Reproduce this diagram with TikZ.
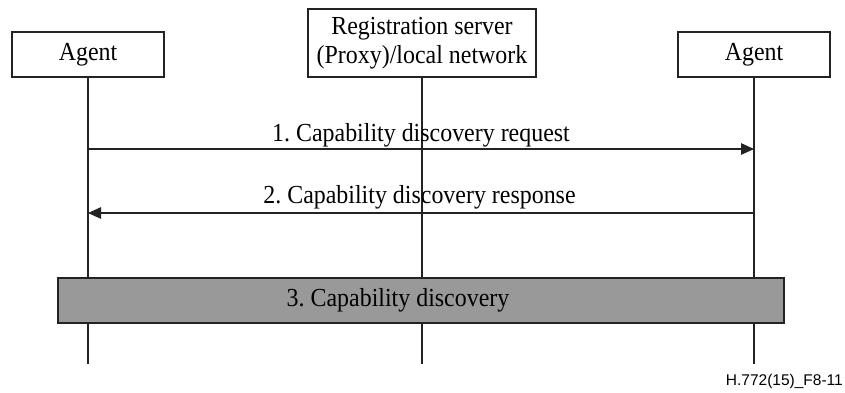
\documentclass[tikz,border=0pt]{standalone}
\usepackage{fontspec}
\setmainfont{Liberation Serif}[FakeStretch=0.92]
\newfontfamily\figsans{Liberation Sans}
\usetikzlibrary{arrows.meta}
\definecolor{boxgray}{RGB}{153,153,153}
\definecolor{ink}{RGB}{35,35,35}
\frenchspacing
\begin{document}
\begin{tikzpicture}[x=1pt,y=-1pt,
  txt/.style={font=\fontsize{26}{29}\selectfont, text=black},
  actor/.style={txt, draw=ink, line width=1.3pt, fill=white, inner sep=0pt, align=center},
  life/.style={draw=ink, line width=1.2pt},
  msg/.style={draw=ink, line width=1.2pt, -{Triangle[length=13pt,width=11.5pt]}},
  phase/.style={draw=ink, line width=1.3pt, fill=boxgray, inner sep=0pt}
]
\useasboundingbox (0,0) rectangle (845,392);

% participants
\node[actor, minimum width=152pt, minimum height=45pt] (a1) at (88,54.5) {Agent};
\node[actor, minimum width=228pt, minimum height=68pt] (srv) at (422,43)
  {Registration server\\(Proxy)/local network};
\node[actor, minimum width=152pt, minimum height=45pt] (a2) at (754,54.5) {Agent};

% lifeline ends
\coordinate (e1) at (88,364);
\coordinate (e2) at (422,364);
\coordinate (e3) at (754,364);
\draw[life] (a1.south) -- (e1);
\draw[life] (srv.south) -- (e2);
\draw[life] (a2.south) -- (e3);

% messages
\coordinate (m1a) at (88,149);
\coordinate (m1b) at (754,149);
\coordinate (m2a) at (754,213);
\coordinate (m2b) at (88,213);
\draw[msg] (m1a) -- node[txt, midway, anchor=base, yshift=8pt] (t1) {1. Capability discovery request} (m1b);
\draw[msg] (m2a) -- node[txt, midway, anchor=base, yshift=10pt, xshift=-1.5pt] (t2) {2. Capability discovery response} (m2b);

% capability discovery phase
\node[phase, minimum width=726pt, minimum height=45pt] (ph) at (421,300.5) {};
\node[txt, anchor=base] (t3) at (398,306) {3. Capability discovery};

% figure tag
\node[anchor=base east, inner sep=0pt, font=\figsans\fontsize{15.5}{18}\selectfont] (tag) at (843,385) {H.772(15)\_F8-11};
\end{tikzpicture}
\end{document}
